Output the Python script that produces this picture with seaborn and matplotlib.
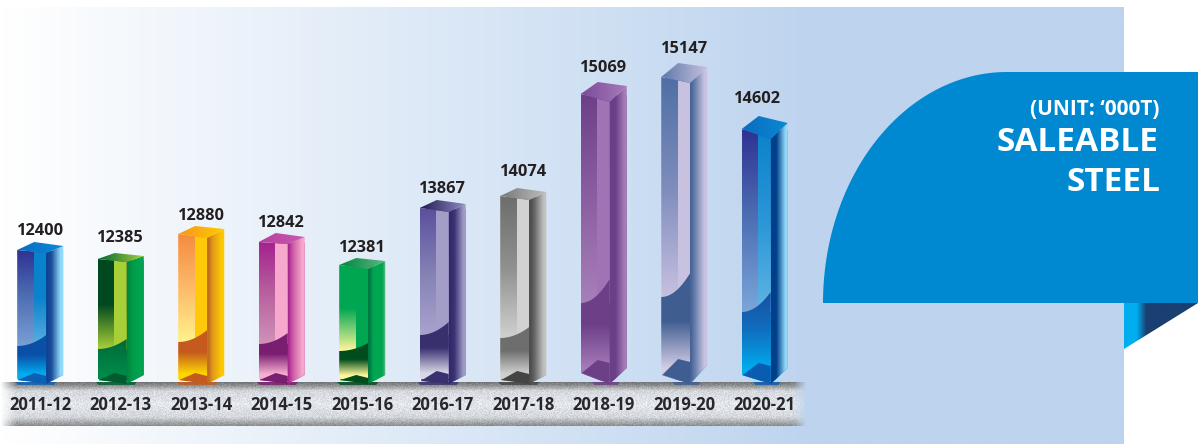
import numpy as np
import pandas as pd
import seaborn as sns
import matplotlib.pyplot as plt
from matplotlib.colors import to_rgb
from matplotlib.patches import Polygon

# data
years = ['2011-12', '2012-13', '2013-14', '2014-15', '2015-16',
         '2016-17', '2017-18', '2018-19', '2019-20', '2020-21']
saleable_steel = [12400, 12385, 12880, 12842, 12381, 13867, 14074, 15069, 15147, 14602]

# the picture's value axis is not linear, these pairs calibrate it (value, height above the base in px)
scale_values = [0, 12381, 12385, 12400, 12842, 12880, 13867, 14074, 14602, 15069, 15147, 16000]
scale_heights = [0, 116, 122, 131, 139, 147, 173, 185, 252, 287, 304, 381]

W, H = 1201, 444
BASE = 381

# one dict per bar: roof depth, gloss height, foot shape and the colours of each face
styles = [
    dict(rise=8, right=4, drop=3, up=19, gloss=(35, 46), foot=(380, 373, 375), main='#0a82cc',
         upper=['#2e3192', '#4f70b4', '#7aa0d6'], strip=['#0a82cc', '#0a82cc', '#5cb0e0'],
         lower=['#0b4fa8', '#0b4fa8', '#00aeef', '#00aeef'],
         side=['#0a3f8c', '#1c4d9c', '#8ed8f8', '#96dcfa'], roof=['#0a6cc0', '#0a8ad4'], notch='#0b5fb4'),
    dict(rise=6, right=3, drop=3, up=21, gloss=(32, 42), foot=(380, 373, 375), main='#00843d',
         upper=['#00481f', '#00481f', '#a8cf38'], strip=['#a8cf38', '#a8cf38', '#a8cf38'],
         lower=['#006837', '#007a42', '#008a48', '#008a48'],
         side=['#00843d', '#009a48', '#00a651', '#008f46'], roof=['#006837', '#a8cf38'], notch='#005c2e'),
    dict(rise=8, right=5, drop=4, up=18, gloss=(39, 51), foot=(380, 373, 375), main='#ffc90a',
         upper=['#f58b3e', '#fdb96a', '#fff38a'], strip=['#ffc90a', '#ffc90a', '#ffc90a'],
         lower=['#c55a1f', '#c55a1f', '#fed700', '#fed700'],
         side=['#b85a20', '#e0981a', '#fdc800', '#fdc800'], roof=['#f7941d', '#ffcc00'], notch='#c55a1f'),
    dict(rise=9, right=5, drop=2, up=19, gloss=(37, 48), foot=(380, 373, 375), main='#a3218e',
         upper=['#a3218e', '#b8609e', '#cf93b8'], strip=['#f7a8cd', '#f7a8cd', '#f7a8cd'],
         lower=['#7a1e70', '#7a1e70', '#f8b0d2', '#f8b0d2'],
         side=['#a3218e', '#d060a8', '#f7a8cd', '#f7a8cd'], roof=['#b83da0', '#c85cae'], notch='#7a1e70'),
    dict(rise=7, right=4, drop=4, up=17, gloss=(30, 38), foot=(380, 375, 375), main='#00a651',
         upper=['#00a651', '#00a651', '#fff79a'], strip=['#00a651', '#00a651', '#00a651'],
         lower=['#004d1d', '#004d1d', '#fff79a', '#fff79a'],
         side=['#006838', '#00a651', '#00a651', '#6ac28c'], roof=['#00843d', '#5cb583'], notch='#004d1d'),
    dict(rise=8, right=4, drop=4, up=19, gloss=(46, 59), foot=(381, 371, 375), main='#5a4f9c',
         upper=['#5a4f9c', '#8380b4', '#a9a3cc'], strip=['#a39ec8', '#a39ec8', '#a39ec8'],
         lower=['#38306f', '#38306f', '#d8d8e8', '#d8d8e8'],
         side=['#2f2968', '#3a3272', '#9d99c4', '#a8a4cc'], roof=['#1f1a55', '#8f8bbe'], notch='#38306f'),
    dict(rise=8, right=4, drop=4, up=24, gloss=(43, 54), foot=(380, 371, 375), main='#777777',
         upper=['#6d6d6d', '#8f8f8f', '#d0d0d0'], strip=['#d2d2d2', '#d2d2d2', '#d2d2d2'],
         lower=['#6e6e6e', '#6e6e6e', '#d0d0d0', '#d0d0d0'],
         side=['#444444', '#666666', '#bdbdbd', '#c4c4c4'], roof=['#777777', '#bdbdbd'], notch='#444444'),
    dict(rise=12, right=8, drop=8, up=26, gloss=(78, 102), foot=(373, 360, 368), main='#6c3f87',
         upper=['#6c3f87', '#8a5fa2', '#a77fb8'], strip=['#a074b4', '#a074b4', '#a074b4'],
         lower=['#6c3f87', '#6c3f87', '#a67cba', '#a67cba'],
         side=['#6a3f88', '#6a3f88', '#a57ab5', '#a57ab5'], roof=['#7b4a99', '#a67cba'], notch='#6c3f87'),
    dict(rise=14, right=10, drop=6, up=28, gloss=(84, 108), foot=(375, 359, 365), main='#4f6fa5',
         upper=['#4f6fa5', '#7d8cbb', '#c6c0e0'], strip=['#c8c2e0', '#c8c2e0', '#c8c2e0'],
         lower=['#3f5d90', '#3f5d90', '#d4cee6', '#d4cee6'],
         side=['#3f5d90', '#6a82ae', '#c8c2e0', '#c8c2e0'], roof=['#5d78a8', '#c8c2e0'], notch='#3f5d90'),
    dict(rise=13, right=6, drop=10, up=30, shift=-7, gloss=(69, 89), foot=(375, 363, 368), main='#0a82cc',
         upper=['#2e3192', '#4f70b4', '#7aa6da'], strip=['#0a82cc', '#2a96d6', '#60b4e4'],
         lower=['#1b4ea0', '#0f70c0', '#00aeef', '#00aeef'],
         side=['#003f8a', '#003f8a', '#8ed8f8', '#96dcfa'], roof=['#0a6cc0', '#0a8ad4'], notch='#0a5cb0'),
]


def forward(v):
    return np.interp(v, scale_values, scale_heights)


def inverse(h):
    return np.interp(h, scale_heights, scale_values)


def ramp(colors, n=200, stops=None):
    # colours spread along a line, returned as n rows of rgb
    if stops is None:
        stops = np.linspace(0, 1, len(colors))
    rgb = np.array([to_rgb(c) for c in colors])
    t = np.linspace(0, 1, n)
    return np.stack([np.interp(t, stops, rgb[:, k]) for k in range(3)], axis=1)


def paint(ax, box, colors, vertical, clip=None, stops=None, zorder=2):
    x0, x1, y0, y1 = box
    line = ramp(colors, stops=stops)
    img = line[:, None, :] if vertical else line[None, :, :]
    im = ax.imshow(img, extent=(x0, x1, y1, y0), aspect='auto', interpolation='bilinear', zorder=zorder)
    if clip is not None:
        im.set_clip_path(Polygon(clip, closed=True, transform=ax.transData))
    return im


sns.set_theme(style='white')
plt.rcParams['font.family'] = ['Open Sans', 'DejaVu Sans']

fig = plt.figure(figsize=(W / 100, H / 100), dpi=100)

# background layer, in picture pixels
bg = fig.add_axes([0, 0, 1, 1], zorder=0)
bg.set_axis_off()
bg.set_autoscale_on(False)
bg.set_xlim(0, W)
bg.set_ylim(H, 0)
paint(bg, (0, 1124, 8, H), ['#ffffff', '#d2e2f4', '#bed4ee', '#bdd3ee'], False, stops=[0, 0.5, 0.72, 1], zorder=1)

# grey floor under the bars, grainy and fading at both ends
floor = ramp(['#77787a', '#8e8f90', '#d4d8dd', '#e4e8ee', '#d4d8dd', '#a4a6a8', '#8c8e90'],
             stops=[0, 0.07, 0.2, 0.5, 0.8, 0.93, 1], n=43)
fade = np.interp(np.arange(806), [0, 16, 792, 806], [0, 1, 1, 0])
yy, xx = np.mgrid[0:43, 0:806]
grain = np.modf(np.abs(np.sin(xx * 12.9898 + yy * 78.233)) * 43758.5453)[0] - 0.5
floor_img = np.ones((43, 806, 4))
floor_img[:, :, :3] = np.clip(floor[:, None, :] + grain[:, :, None] * 0.11, 0, 1)
floor_img[:, :, 3] = fade
bg.imshow(floor_img, extent=(0, 806, 426, 383), aspect='auto', interpolation='nearest', zorder=2)

# blue ribbon with the title
a = np.linspace(0, np.pi / 2, 80)
curve = np.column_stack([1007 - 184 * np.cos(a), 303 - 231 * np.sin(a)])
ribbon = np.vstack([curve, [[1198, 72], [1198, 303]]])
bg.add_patch(Polygon(ribbon, closed=True, fc='#0089d0', ec='none', zorder=3))
paint(bg, (1124, 1198, 303, 349), ['#00aeef', '#00aeef', '#1a3f72', '#1a3f72'], False,
      clip=[(1124, 303), (1198, 303), (1124, 349)], stops=[0, 0.17, 0.3, 1], zorder=3)
bg.text(1160, 109, '(UNIT: \u2018000T)', color='white', fontsize=15, fontweight='bold',
        ha='right', va='center', zorder=4)
bg.text(1159, 142, 'SALEABLE', color='white', fontsize=24, fontweight='bold', ha='right', va='center', zorder=4)
bg.text(1160, 182, 'STEEL', color='white', fontsize=24, fontweight='bold', ha='right', va='center', zorder=4)

# the bars themselves
df = pd.DataFrame({'year': years, 'steel': saleable_steel})
ax = fig.add_axes([0, (H - BASE) / H, 1, BASE / H], zorder=2)
ax.patch.set_alpha(0)
sns.barplot(data=df, x='year', y='steel', hue='year', palette=[s['main'] for s in styles],
            legend=False, width=46 / 80.5, saturation=1, ax=ax)
ax.set_yscale('function', functions=(forward, inverse))
ax.set_ylim(0, 16000)
ax.set_xlim(-40.2 / 80.5, (W - 40.2) / 80.5)
ax.set_xlabel('')
ax.set_ylabel('')
ax.set_yticks([])
ax.minorticks_off()
ax.tick_params(axis='x', length=0, pad=10.5, labelsize=12, labelcolor='#26262c')
for lab in ax.get_xticklabels():
    lab.set_fontweight('bold')
sns.despine(ax=ax, left=True, bottom=True)

# box faces go on top, placed from where seaborn put each bar
top = fig.add_axes([0, 0, 1, 1], zorder=3)
top.set_axis_off()
top.set_autoscale_on(False)
top.set_xlim(0, W)
top.set_ylim(H, 0)

fig.canvas.draw()
for bar, st, val in zip(ax.patches, styles, saleable_steel):
    bb = bar.get_window_extent()
    x0, x1, yt = bb.x0, bb.x1, H - bb.y1
    xm = x0 + 0.63 * (x1 - x0)
    xs = x0 + 0.36 * (x1 - x0)
    xp = x0 + 0.37 * (x1 - x0)
    corner = yt + st['drop']
    foot_left, notch_top, foot_right = st['foot']

    outline = [(x0, yt), (xp, yt - st['rise']), (x1, yt - st['right']), (x1, foot_right), (xm, 384), (x0, foot_left)]
    bar.set_clip_path(Polygon(outline, closed=True, transform=top.transData))

    # shadow on the floor, short under the bars that stand on a point
    left_end = x0 - 2 if foot_left > 378 else xm - 18
    top.add_patch(Polygon([(left_end, 382), (x1 - 7, 382), (x1 - 9, 385), (left_end + 3, 385)], closed=True,
                          fc=st['notch'], ec='none', alpha=0.8, zorder=1))

    front = [(x0, yt), (xm, corner), (xm, 384), (x0, foot_left)]
    side = [(xm, corner), (x1, yt - st['right']), (x1, foot_right), (xm, 384)]
    roof = [(x0, yt), (xp, yt - st['rise']), (x1, yt - st['right']), (xm, corner)]

    gl, gr = BASE - st['gloss'][0], BASE - st['gloss'][1]
    paint(top, (x0, xm, yt, gl), st['upper'], True, clip=front, zorder=2)
    # strip runs down to the gloss curve, the lower part covers what is below it
    paint(top, (xs, xm, yt, gl), st['strip'], True, clip=front, zorder=2)

    t = np.linspace(0, 1, 30)
    gloss_line = np.column_stack([x0 + (xm - x0) * t, gl - (gl - gr) * t ** 2])
    lower = np.vstack([gloss_line, [[xm, 384], [x0, foot_left]]])
    paint(top, (x0, xm, min(gl, gr), BASE - 2), st['lower'], True, clip=lower,
          stops=[0, 0.45, 0.9, 1], zorder=3)

    paint(top, (xm, x1, yt - st['right'], 384), st['side'], False, clip=side, stops=[0, 0.3, 0.8, 1], zorder=2)
    paint(top, (x0, x1, yt - st['rise'], corner), st['roof'], False, clip=roof, zorder=3)
    top.add_patch(Polygon([(x0 + 1, foot_left), (xp, notch_top), (xm, notch_top + 3), (xm, 384)], closed=True,
                          fc=st['notch'], ec='none', zorder=4))

    top.text((x0 + x1) / 2 + st.get('shift', 0), yt - st['up'], str(val), color='#231f20', fontsize=11.8,
             fontweight='bold', ha='center', va='center', zorder=5)

fig.savefig('out.png', dpi=100)
